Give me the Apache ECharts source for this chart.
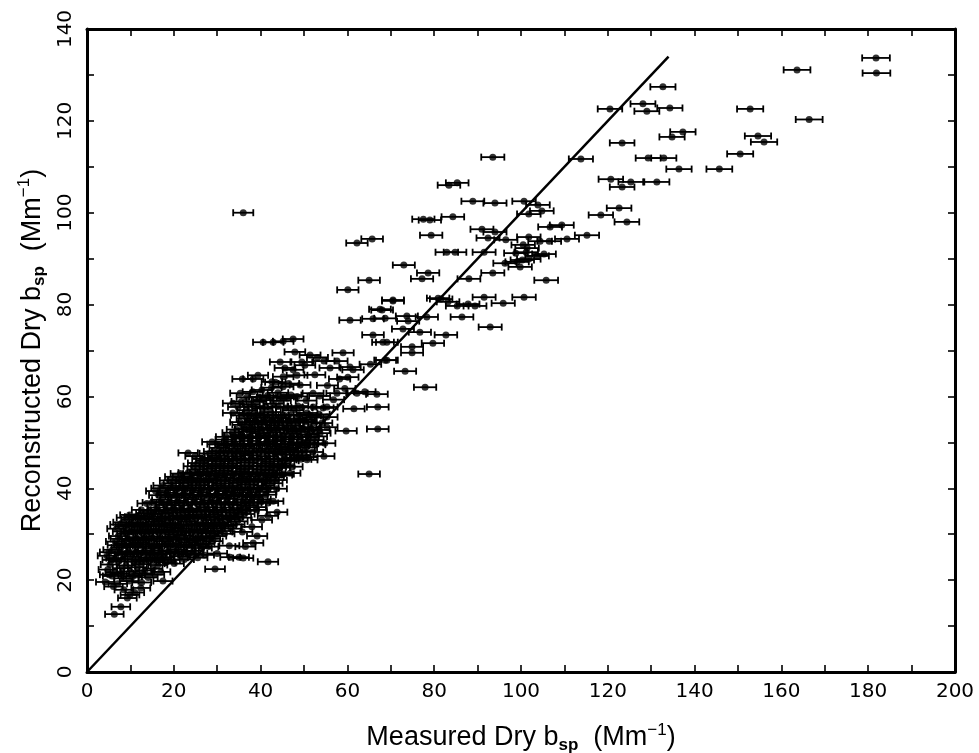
<!DOCTYPE html>
<html>
<head>
<meta charset="utf-8">
<script src="https://cdn.jsdelivr.net/npm/echarts@6/dist/echarts.min.js"></script>
<style>
  html, body { margin: 0; padding: 0; background: #fff; }
  #chart { width: 979px; height: 753px; }
</style>
</head>
<body>
<div id="chart"></div>
<script>
// measured vs reconstructed dry scattering, [measured, reconstructed]
const lowCluster = [
  [6.3,12.6],[7.8,14.2],[9.9,16.8],[9.3,16.1],[11,17.3],[8.5,17.9],[12.4,18.3],[6.1,18.6],
  [4.2,19.6],[5.8,20.9],[7.1,19.2],[8.4,20.4],[9.7,19.8],[11.2,21.1],[12.6,19.5],[14.1,20.6],[17.5,19.8],
  [4.8,22.3],[6.4,21.7],[8.1,22.6],[9.9,21.9],[11.6,22.8],[13.3,22.1],[15.2,22.5],[17,21.8],
  [5.3,23.4],[7.2,24.1],[9,23.2],[10.8,24],[12.5,23.5],[14.4,24.2],[16.3,23.3],[18.2,23.9],[20.1,23.6],
  [4.6,25.3],[6.6,24.8],[8.5,25.6],[10.3,25.1],[12.2,25.7],[14,24.9],[15.9,25.5],[17.8,25],[19.6,25.8],[21.5,25.2],[23.4,25.6],[25.5,24.9],
  [5.9,26.6],[7.8,27.1],[9.6,26.3],[11.4,27.2],[13.3,26.4],[15.1,27],[17,26.5],[18.9,27.3],[20.8,26.6],[22.7,27.2],[24.6,26.4],[26.5,27],
  [6.5,28.4],[8.4,27.9],[10.2,28.6],[12.1,28.1],[13.9,28.7],[15.8,27.8],[17.7,28.5],[19.5,28],[21.4,28.8],[23.3,28.2],[25.2,28.6],[27.1,27.9],[29,28.5],
  [7.2,29.6],[9.1,30.1],[11,29.3],[12.9,30.2],[14.7,29.5],[16.6,30.3],[18.5,29.4],[20.3,30],[22.2,29.7],[24.1,30.4],[26,29.5],[27.9,30.2],[29.8,29.6],[31.7,30.1],
  [6.8,31.2],[8.7,31.7],[10.6,30.9],[12.5,31.6],[14.4,31.1],[16.3,31.8],[18.1,31],[20,31.5],[21.9,31.2],[23.8,31.9],[25.7,31.1],[27.6,31.7],[29.5,31.3],[31.4,31.8],[33.2,31.2],
  [8.2,32.6],[10.1,33.2],[12,32.5],[13.9,33.3],[15.8,32.7],[17.6,33.1],[19.5,32.4],[21.4,33.2],[23.3,32.8],[25.2,33.4],[27.1,32.5],[29,33.1],[30.9,32.6],[32.8,33.3],[34.7,32.8],
  [9.8,34.2],[11.8,34],[13.5,34.6],[15.2,34.4],[17.5,34.5],[19.3,34.7],[21.1,34.1],[23,34.8],[24.9,34.2],[26.8,34.9],[28.7,34.3],[30.6,34.8],[32.5,34.1],[34.4,34.7],[36.3,34.4],[41.7,34],[43.8,34.8],
  [29.5,22.4],[41.7,24],[27,25.5],[30,25.8],[33,25],[35,25],[36,24.8],[38.3,28.1],[39.2,29.6],[36.5,27.3],[32.8,27.5],[35.8,30.5],[38,31.6],[40.3,33.1]
];

// points lying between the rows above, where the cloud is solid black
const lowFill = [
  [5.1,21.2],[7.6,21.4],[10.5,20.8],[12.9,21.5],[15.6,21.2],
  [5.7,24.4],[8.3,24.6],[11.5,24.4],[13.4,24.5],[15.3,24.3],[17.2,24.6],[19.2,24.4],[22.4,24.5],
  [5.1,26.1],[7.2,25.9],[9.3,26],[11.3,26.1],[13.1,25.9],[15,26.1],[16.9,25.8],[18.8,26.2],[20.6,25.9],[22.6,26.2],[24.5,25.8],
  [6.9,27.6],[9,27.5],[10.8,27.8],[12.7,27.4],[14.5,27.8],[16.4,27.4],[18.3,27.8],[20.1,27.5],[22,27.7],[23.9,27.5],[25.8,27.8],[28,27.3],
  [7.6,29],[9.6,28.9],[11.5,29.1],[13.3,28.9],[15.2,29.1],[17.1,29],[19,29.2],[20.9,28.9],[22.8,29.1],[24.7,28.9],[26.6,29.2],[28.4,29],
  [8.1,30.6],[10,30.5],[11.9,30.7],[13.8,30.5],[15.7,30.7],[17.5,30.5],[19.4,30.8],[21.3,30.5],[23.2,30.7],[25.1,30.4],[27,30.8],[28.9,30.5],[30.8,30.7],
  [7.5,32.1],[9.4,31.9],[11.3,32.2],[13.2,31.9],[15.1,32.2],[17,31.9],[18.8,32.2],[20.7,31.9],[22.6,32.1],[24.5,31.9],[26.4,32.2],[28.3,31.9],[30.2,32.2],[32.1,31.9],[34,32.1],
  [9,33.6],[10.9,33.8],[12.8,33.5],[14.7,33.8],[16.6,33.5],[18.5,33.8],[20.3,33.5],[22.2,33.8],[24.1,33.6],[26,33.9],[27.9,33.6],[29.8,33.9],[31.7,33.5],[33.6,33.8],[35.5,33.6]
];

const midCluster = [
  [13.8,36.7],[16.1,35.8],[18,36.4],[19.9,35.7],[21.8,36.3],[23.7,35.6],[25.6,36.5],[27.5,35.9],[29.4,36.6],[31.3,35.8],[33.2,36.4],[35.1,35.7],[37,36.3],[38.9,35.9],[42.9,37.2],
  [17.2,37.5],[19.1,38.1],[21,37.3],[22.9,38],[24.8,37.6],[26.7,38.2],[28.6,37.4],[30.5,38],[32.4,37.7],[34.3,38.3],[36.2,37.5],[38.1,38.1],[40,37.6],
  [15.8,39.4],[18.5,39],[20.4,39.6],[22.3,38.9],[24.2,39.5],[26.1,39.1],[28,39.7],[29.9,38.8],[31.8,39.4],[33.7,39],[35.6,39.6],[37.5,39.1],[39.4,39.8],[41.3,39.2],
  [17.5,40.6],[19.9,41.1],[21.8,40.5],[23.7,41.2],[25.6,40.7],[27.5,41.3],[29.4,40.6],[31.3,41],[33.2,40.5],[35.1,41.2],[37,40.8],[38.9,41.4],[40.8,40.6],[42.7,41.1],
  [20.2,42.5],[22,42.5],[24,42.2],[25.9,42.8],[27.8,42.1],[29.7,42.7],[31.6,42.3],[33.5,42.9],[35.4,42.2],[37.3,42.6],[39.2,42],[41.1,42.8],[43,42.4],[44.9,42.9],
  [23.3,43.4],[25.4,44.1],[27.3,43.6],[29.2,44.3],[31.1,43.8],[33,44.4],[34.9,43.7],[36.8,44.2],[38.7,43.5],[40.6,44.1],[42.5,43.9],[44.4,44.5],[46.8,43.3],
  [25.5,45.5],[27.4,46],[29.3,45.3],[31.2,45.9],[33.1,45.4],[35,46.1],[36.9,45.6],[38.8,46.2],[40.7,45.4],[42.6,45.8],[44.5,45.3],[46.4,46],[48.4,46.6],[50.7,46.2],
  [24.9,47],[28.8,46.6],[28.2,47.6],[30.1,47.1],[32,47.7],[33.9,47],[35.8,47.5],[37.7,47.2],[39.6,47.8],[41.5,47],[43.4,47.6],[45.3,47.3],[47.2,47.9],[49.1,47.2],[50.7,46.8],[54.6,47],
  [23.3,47.7],[30.5,48.8],[32.4,49.3],[34.3,48.6],[36.2,49.2],[38.1,48.7],[40,49.4],[41.9,48.6],[43.8,49.1],[45.7,48.5],[46.8,48.8],[48.7,49.3],[50.6,48.9],[52.5,49.5],
  [28.8,50.1],[31.9,50.6],[33.8,50.2],[35.7,50.8],[37.6,50.3],[39.5,50.9],[41.4,50.1],[43.3,50.5],[45.2,50.2],[47.1,50.7],[49,50],[50.7,49.8],[52.1,50.5],[54.8,49.8],
  [33.5,52.1],[35.4,51.6],[37.3,52.3],[39.9,52],[41.2,51.5],[43.1,52.2],[44.5,51.2],[46.9,51.9],[48.4,52.3],[50.7,51.7],[53.7,52],
  [35.8,53.8],[37.9,53.3],[39.8,53.9],[41.7,53.2],[43.6,53.7],[45.5,53.1],[47.4,53.6],[49.3,53],[51.4,53.3],[55.3,53.3],[54.1,54.2],
  [36.8,55.2],[38.7,54.7],[40.6,55.4],[42.5,54.8],[44.4,55.3],[46.3,54.6],[48.2,55.1],[50.1,54.9],[52,55.4],[55.3,55.5],
  [33.6,56.4],[36.9,57],[38.5,56.3],[40.4,57.4],[42.3,56.6],[45.2,56],[47.5,57],[50.7,56.4],[52.1,57.7],[54.4,57.5],
  [33.6,58.5],[35.6,58.9],[37.5,58.2],[39,58.9],[40.6,59.2],[43,58.4],[44.6,59.1],[46.1,59.6],
  [35.3,60.7],[38.2,61],[40.3,61.4],[41.6,60.2],[44,60.8],[47,60.3],[52.1,60.7],
  [42.5,61.9],[45.2,62.1],[46.5,62.8],[49.1,62.5],[43.4,63.1],
  [35.8,63.8],[38.3,63.8],[42.6,63.2],[39.4,64.6],[45.2,64.3],[48.4,64.6],[52.5,64.7],
  [44.5,67.5],[45.6,66.2],[47.5,65.8],[49.5,67.5],[47.9,69.7],[51.4,69],[59,69.5],
  [40.6,71.8],[42.9,71.8],[45.2,72],[47.5,72.5],[54.6,67.7],[57.6,67.7],[60.6,66.4],
  [50.2,66.8],[53.1,68.5],[56,66.2],[58.2,63.8],[55.4,62.4],[53.6,60.1],[56.8,59.3],[59.4,61.7],[50.5,59.1],[48.6,57.9]
];

const midFill = [
  [12.5,35.3],[14.4,35.1],[16.3,35.3],[18.2,35.1],[20.1,35.4],[22,35.1],[23.9,35.4],[25.8,35.2],[27.7,35.4],[29.6,35.1],[31.5,35.3],[33.4,35.1],[35.3,35.3],[37.2,35.1],[39.1,35.3],
  [15,36.9],[17,37],[18.9,36.8],[20.8,37],[22.7,36.8],[24.6,37],[26.5,36.8],[28.4,37],[30.3,36.8],[32.2,37],[34.1,36.8],[36,37],[37.9,36.8],[39.8,37],[41.7,36.8],
  [16.5,38.5],[18.4,38.6],[20.3,38.4],[22.2,38.6],[24.1,38.4],[26,38.6],[27.9,38.4],[29.8,38.6],[31.7,38.4],[33.6,38.6],[35.5,38.4],[37.4,38.6],[39.3,38.4],[41.2,38.6],
  [17,40],[19,40.1],[20.9,39.9],[22.8,40.1],[24.7,39.9],[26.6,40.1],[28.5,39.9],[30.4,40.1],[32.3,39.9],[34.2,40.1],[36.1,39.9],[38,40.1],[39.9,39.9],[41.8,40.1],[43.7,39.9],
  [19,41.7],[20.9,41.8],[22.8,41.6],[24.7,41.8],[26.6,41.6],[28.5,41.8],[30.4,41.6],[32.3,41.8],[34.2,41.6],[36.1,41.8],[38,41.6],[39.9,41.8],[41.8,41.6],[43.7,41.8],
  [21.5,43.2],[24.4,43.2],[26.3,43.1],[28.2,43.3],[30.1,43.1],[32,43.3],[33.9,43.1],[35.8,43.3],[37.7,43.1],[39.6,43.3],[41.5,43.1],[43.4,43.3],[45.3,43.1],
  [24.5,44.8],[26.4,44.9],[28.3,44.7],[30.2,44.9],[32.1,44.7],[34,44.9],[35.9,44.7],[37.8,44.9],[39.7,44.7],[41.6,44.9],[43.5,44.7],[45.4,44.9],[47.3,44.7],
  [26.5,46.4],[28.4,46.5],[30.3,46.3],[32.2,46.5],[34.1,46.3],[36,46.5],[37.9,46.3],[39.8,46.5],[41.7,46.3],[43.6,46.5],[45.5,46.3],[47.4,46.5],[49.3,46.3],
  [29.2,48],[31.1,48.1],[33,47.9],[34.9,48.1],[36.8,47.9],[38.7,48.1],[40.6,47.9],[42.5,48.1],[44.4,47.9],[46.3,48.1],[48.2,47.9],[50.1,48.1],[52,47.9],
  [30,49.6],[31.9,49.7],[33.8,49.5],[35.7,49.7],[37.6,49.5],[39.5,49.7],[41.4,49.5],[43.3,49.7],[45.2,49.5],[47.1,49.7],[49,49.5],[50.9,49.7],
  [32,51.2],[33.9,51.3],[35.8,51.1],[37.7,51.3],[39.6,51.1],[41.5,51.3],[43.4,51.1],[45.3,51.3],[47.2,51.1],[49.1,51.3],[51,51.1],[52.9,51.3],
  [34.5,52.8],[36.4,52.9],[38.3,52.7],[40.2,52.9],[42.1,52.7],[44,52.9],[45.9,52.7],[47.8,52.9],[49.7,52.7],[51.6,52.9],[53.5,52.7],
  [35.3,54.4],[37.2,54.3],[39.1,54.5],[41,54.3],[42.9,54.5],[44.8,54.3],[46.7,54.5],[48.6,54.3],[50.5,54.5],[52.4,54.3],
  [35.5,55.9],[37.4,56],[39.3,55.8],[41.2,56],[43.1,55.8],[46.5,55.9],[48.9,56],[51.5,55.8],[53.5,56.1],
  [34.8,57.7],[38.5,57.8],[41.2,57.6],[44,57.8],[45.9,57.5],[49.5,57.6],
  [36.8,59.8],[39.7,59.9],[42.2,59.7],[45.3,59.9],[48.4,60]
];

const upperBand = [
  [36,100],[62.2,93.4],[65.7,94.3],[65,85.3],[60.1,83.2],
  [60.6,76.6],[65.9,76.9],[68,78.8],[70.5,80.8],[65.9,73.4],[68.2,71.8],[68.7,67.9],[65.3,67],
  [61.3,65.8],[60.1,64.2],[57.6,60.7],[55.3,57.7],[62.2,60.7],[64,61],[66.8,60.5],[67,57.7],
  [61.5,57.3],[67,52.9],[59.7,52.5],[65,43.1],[67.5,79],[68.7,77],[80.9,81.4],
  [109.4,97.3],[106.7,96.9],[115.2,95.1],[110.6,94.3],[106.5,93.8],[104.4,93.8],[101.8,94.7],
  [84.3,99.1],[79,98.4],[77.5,98.6],[79.3,95.1],[91,96.4],[94,95.8],[92.4,94.5],[96.5,94.1],
  [100.5,93],[101.4,92.3],[98.8,91.2],[101.2,91.4],[105.3,91],[103.7,90.6],[82.9,91.4],[84.8,91.4],
  [91.5,91.4],[96.3,89],[99.1,89.3],[99.8,88.2],[100.3,89.7],[101.8,89.9],[73,88.6],[78.6,86.9],
  [77.2,85.6],[88,85.6],[93.5,86.9],[105.8,85.3],[70.5,81],[81.6,81.2],[85.3,79.7],[87.8,80.1],
  [89.4,79.7],[91.5,81.6],[95.9,80.3],[100.7,81.6],[83.2,80.6],[78.3,77.3],[86.4,77.3],[73.7,77.5],
  [74,76.4],[72.8,74.7],[76.7,74],[82.7,73.4],[79.7,71.6],[92.9,75.1],[69.1,71.8],[69.1,67.9],
  [74.9,70.8],[74.9,69.5],[73.3,65.5],[77.9,62]
];

const highPoints = [
  [181.8,133.7],[181.9,130.4],[163.6,131.1],[166.4,120.3],[152.8,122.6],[154.6,116.7],[156,115.4],
  [150.5,112.8],[145.7,109.5],[137.3,117.6],[134.8,116.5],[132.7,127.4],[128.1,123.7],[129,122.1],
  [134.3,122.8],[120.5,122.6],[123.3,115.2],[113.8,111.7],[93.5,112.1],[129.3,111.9],[132.9,111.9],
  [136.4,109.5],[120.7,107.3],[125.3,106.7],[123.3,105.6],[131.3,106.7],[85.3,106.5],[83.4,106],
  [88.9,102.5],[94,102.1],[100.7,102.5],[103.9,101.7],[104.8,100.4],[101.8,99.7],[122.6,101],
  [118.4,99.5],[124.4,98]
];

// 1:1 reference line
const oneToOne = [[0, 0], [134, 134]];

const xTicks = { min: 0, max: 200, step: 10, labelStep: 20 };
const yTicks = { min: 0, max: 140, step: 10, labelStep: 20 };

// measurement uncertainty on the x value (absolute + relative)
const errAbs = 2.1;
const errRel = 0.006;

const allPoints = [].concat(lowCluster, lowFill, midCluster, midFill, upperBand, highPoints);
const errData = allPoints.map(p => [p[0], p[1], errAbs + errRel * p[0]]);

const chart = echarts.init(document.getElementById('chart'));
const font = 'Liberation Sans, Arial, Helvetica, sans-serif';
const tickFont = 'DejaVu Sans, Verdana, sans-serif';

const nameRich = {
  b: { fontSize: 27, fontFamily: font, color: '#000', lineHeight: 32, verticalAlign: 'middle' },
  sub: { fontSize: 17, fontFamily: font, color: '#000', lineHeight: 14, verticalAlign: 'bottom', fontWeight: 'bold' },
  sup: { fontSize: 17, fontFamily: font, color: '#000', lineHeight: 16, verticalAlign: 'top' }
};

function tickLabel(step) {
  return v => (v % step === 0 ? String(v) : '');
}

const axisBase = {
  type: 'value',
  splitLine: { show: false },
  axisLine: { show: true, onZero: false, lineStyle: { color: '#000', width: 3 } },
  axisTick: { show: true, inside: true, length: 7, lineStyle: { color: '#000', width: 1.6 } }
};

chart.setOption({
  animation: false,
  backgroundColor: '#fff',
  grid: { left: 87, right: 24, top: 29, bottom: 81, outerBoundsMode: 'none' },
  xAxis: [
    Object.assign({}, axisBase, {
      min: xTicks.min, max: xTicks.max, interval: xTicks.step,
      position: 'bottom',
      name: '{b|Measured Dry b}{sub|sp}{b|  (Mm}{sup|−1}{b|)}',
      nameLocation: 'middle', nameGap: 50,
      nameTextStyle: { rich: nameRich },
      axisLabel: { color: '#000', fontSize: 20, fontFamily: tickFont, margin: 10, formatter: tickLabel(xTicks.labelStep) }
    }),
    Object.assign({}, axisBase, {
      min: xTicks.min, max: xTicks.max, interval: xTicks.step,
      position: 'top', axisLabel: { show: false }
    })
  ],
  yAxis: [
    Object.assign({}, axisBase, {
      min: yTicks.min, max: yTicks.max, interval: yTicks.step,
      position: 'left',
      name: '{b|Reconstructed Dry b}{sub|sp}{b|  (Mm}{sup|−1}{b|)}',
      nameLocation: 'middle', nameGap: 34, nameRotate: 90,
      nameTextStyle: { rich: nameRich },
      axisLabel: { color: '#000', fontSize: 20, fontFamily: tickFont, margin: 11, rotate: 90, formatter: tickLabel(yTicks.labelStep) }
    }),
    Object.assign({}, axisBase, {
      min: yTicks.min, max: yTicks.max, interval: yTicks.step,
      position: 'right', axisLabel: { show: false }
    })
  ],
  series: [
    {
      type: 'custom',
      data: errData,
      renderItem: function (params, api) {
        const x = api.value(0), y = api.value(1), e = api.value(2);
        const a = api.coord([x - e, y]);
        const b = api.coord([x + e, y]);
        const cap = 3.5;
        const st = { stroke: '#000', lineWidth: 1.8 };
        return {
          type: 'group',
          children: [
            { type: 'line', shape: { x1: a[0], y1: a[1], x2: b[0], y2: b[1] }, style: st },
            { type: 'line', shape: { x1: a[0], y1: a[1] - cap, x2: a[0], y2: a[1] + cap }, style: st },
            { type: 'line', shape: { x1: b[0], y1: b[1] - cap, x2: b[0], y2: b[1] + cap }, style: st }
          ]
        };
      },
      silent: true
    },
    {
      type: 'scatter',
      data: allPoints,
      symbol: 'circle',
      symbolSize: 7,
      itemStyle: { color: '#000' },
      silent: true
    },
    {
      type: 'line',
      data: oneToOne,
      showSymbol: false,
      lineStyle: { color: '#000', width: 2.5 },
      silent: true
    }
  ]
});
</script>
</body>
</html>
